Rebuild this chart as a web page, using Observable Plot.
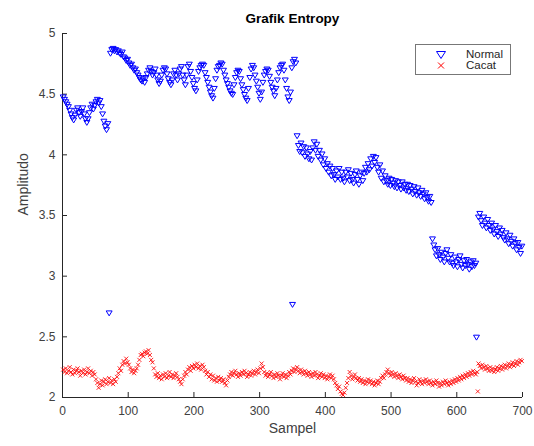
<!DOCTYPE html>
<html><head><meta charset="utf-8">
<script src="https://cdn.jsdelivr.net/npm/d3@7"></script>
<script src="https://cdn.jsdelivr.net/npm/@observablehq/plot@0.6"></script>
<style>
body{margin:0;background:#fff;}
#wrap{position:relative;width:534px;height:446px;font-family:"Liberation Sans",Arial,Helvetica,sans-serif;}
#legend{position:absolute;left:415px;top:44px;width:94px;height:29px;border:1px solid #777;background:#fff;font-size:11.5px;color:#262626;}
#legend .row{position:absolute;left:0;width:94px;height:11px;}
#legend svg{position:absolute;left:19px;top:0;}
#legend span{position:absolute;left:50px;top:-1px;line-height:12px;}
</style></head><body>
<div id="wrap"><div id="chart"></div>
<div id="legend">
 <div class="row" style="top:4px"><svg width="12" height="11"><path d="M1.5,2.5L10.5,2.5L6,9.5Z" fill="none" stroke="#0000ff" stroke-width="1"/></svg><span>Normal</span></div>
 <div class="row" style="top:15px"><svg width="12" height="11"><path d="M3,2.5L9,8.5M9,2.5L3,8.5" fill="none" stroke="#ff0000" stroke-width="1"/></svg><span>Cacat</span></div>
</div></div>
<script>
// ---- data (sample index step 2) ----
const sampleStep = 2;
const xTicks = [0, 100, 200, 300, 400, 500, 600, 700];
const yTicks = [2, 2.5, 3, 3.5, 4, 4.5, 5];

const normalStarts = [1, 73, 357, 563, 633];
const normalSeg1 = [4.48,4.46,4.44,4.42,4.40,4.37,4.34,4.31,4.29,4.33,4.37,4.39,4.35,4.32,4.36,4.39,4.34,4.30,4.27,4.30,4.35,4.39,4.42,4.38,4.41,4.44,4.46,4.43,4.45,4.40,4.34,4.28,4.24,4.21,4.26];
const normalSeg2 = [4.84,4.87,4.88,4.86,4.87,4.85,4.86,4.84,4.83,4.85,
4.81,4.80,4.78,4.79,4.76,4.74,4.75,4.72,4.70,4.71,
4.68,4.66,4.64,4.62,4.61,4.63,4.60,4.64,4.67,4.70,
4.72,4.69,4.66,4.68,4.71,4.66,4.62,4.59,4.61,4.66,
4.70,4.72,4.71,4.67,4.63,4.60,4.58,4.62,4.67,4.70,
4.66,4.62,4.67,4.71,4.73,4.66,4.62,4.58,4.66,4.73,
4.75,4.69,4.64,4.59,4.55,4.53,4.62,4.69,4.72,4.74,
4.75,4.74,4.68,4.64,4.60,4.56,4.52,4.49,4.47,4.55,
4.63,4.70,4.73,4.74,4.76,4.75,4.70,4.66,4.62,4.59,
4.56,4.53,4.51,4.50,4.58,4.64,4.68,4.70,4.69,4.63,
4.58,4.54,4.50,4.47,4.45,4.55,4.64,4.71,4.74,4.72,
4.66,4.61,4.56,4.51,4.46,4.52,4.60,4.66,4.69,4.71,
4.70,4.65,4.60,4.56,4.53,4.49,4.55,4.62,4.68,4.72,
4.74,4.75,4.70,4.62,4.55,4.48,4.45,4.52,4.72,4.77,
4.79,4.76];
const normalSeg3 = [4.16,4.08,4.03,4.10,4.02,4.07,3.99,4.06,4.01,3.97,
4.03,3.96,4.06,4.11,4.04,4.09,3.99,4.04,3.96,4.01,
3.92,3.97,3.89,3.93,3.86,3.91,3.83,3.89,3.84,3.80,
3.87,3.82,3.89,3.80,3.86,3.81,3.78,3.86,3.82,3.88,
3.79,3.85,3.80,3.77,3.84,3.87,3.80,3.76,3.83,3.86,
3.79,3.85,3.90,3.86,3.93,3.88,3.97,3.91,3.99,3.94,
3.98,3.90,3.86,3.92,3.81,3.87,3.78,3.83,3.79,3.76,
3.81,3.75,3.80,3.77,3.74,3.79,3.73,3.78,3.75,3.72,
3.78,3.73,3.76,3.71,3.76,3.70,3.75,3.72,3.68,3.74,
3.70,3.67,3.73,3.69,3.66,3.71,3.68,3.64,3.69,3.65,
3.62,3.66,3.61];
const normalSeg4 = [3.31,3.26,3.22,3.17,3.23,3.18,3.14,3.20,3.16,3.12,3.19,3.22,3.15,3.12,3.18,3.11,3.09,3.16,3.12,3.08,3.14,3.17,3.10,3.07,3.13,3.09,3.14,3.10,3.06,3.12,3.08,3.13,3.09,3.11];
const normalSeg5 = [3.49,3.52,3.46,3.42,3.49,3.44,3.40,3.47,3.42,3.38,3.44,3.39,3.35,3.42,3.37,3.33,3.40,3.35,3.38,3.32,3.30,3.36,3.31,3.27,3.34,3.29,3.25,3.31,3.27,3.22,3.28,3.24,3.19,3.25];
const normalOutlierSample = [71, 350, 630];
const normalOutlierValue = [2.70, 2.77, 2.50];

const cacatStart = 1;
const cacatValues = [
2.23,2.21,2.24,2.20,2.22,2.25,2.21,2.19,2.23,2.20,2.22,2.24,2.21,2.18,2.22,2.20,2.23,2.19,2.21,2.24,2.20,2.22,2.18,2.21,2.19,
2.15,2.12,2.08,2.11,2.14,2.10,2.13,2.15,2.11,2.13,2.16,2.12,2.14,2.11,2.15,2.13,2.17,2.20,2.24,2.22,2.27,2.30,2.28,2.32,2.29,
2.27,2.24,2.21,2.23,2.20,2.22,2.24,2.27,2.31,2.35,2.36,2.34,2.37,2.38,2.36,2.39,2.35,2.31,2.29,2.24,2.19,2.17,2.20,2.16,2.18,
2.15,2.19,2.17,2.20,2.16,2.18,2.21,2.17,2.19,2.16,2.18,2.20,2.17,2.15,2.13,2.11,2.15,2.18,2.21,2.19,2.23,2.25,2.22,2.26,2.24,
2.27,2.25,2.28,2.24,2.26,2.23,2.27,2.25,2.22,2.19,2.21,2.17,2.19,2.15,2.18,2.14,2.16,2.13,2.17,2.14,2.16,2.13,2.15,2.12,2.10,
2.14,2.17,2.19,2.21,2.18,2.20,2.22,2.19,2.17,2.20,2.18,2.21,2.19,2.22,2.20,2.17,2.19,2.21,2.18,2.20,2.22,2.19,2.21,2.23,2.20,
2.24,2.28,2.25,2.21,2.18,2.20,2.17,2.19,2.21,2.18,2.16,2.19,2.17,2.20,2.18,2.15,2.18,2.20,2.17,2.19,2.16,2.18,2.21,2.19,2.22,
2.24,2.21,2.23,2.25,2.22,2.20,2.23,2.21,2.19,2.22,2.20,2.18,2.21,2.19,2.17,2.20,2.18,2.21,2.19,2.16,2.18,2.20,2.17,2.19,2.16,
2.18,2.15,2.17,2.19,2.16,2.18,2.15,2.12,2.10,2.07,2.09,2.05,2.03,2.02,2.04,2.08,2.12,2.16,2.21,2.18,2.15,2.17,2.19,2.16,2.14,
2.16,2.13,2.15,2.12,2.14,2.11,2.13,2.15,2.12,2.14,2.11,2.13,2.10,2.12,2.14,2.11,2.13,2.16,2.18,2.16,2.19,2.21,2.23,2.20,2.18,
2.21,2.19,2.17,2.20,2.18,2.16,2.19,2.17,2.15,2.18,2.16,2.14,2.16,2.13,2.15,2.12,2.14,2.16,2.13,2.10,2.12,2.15,2.13,2.11,2.14,
2.12,2.15,2.13,2.11,2.14,2.12,2.10,2.13,2.11,2.14,2.12,2.09,2.12,2.10,2.13,2.11,2.14,2.12,2.10,2.13,2.11,2.14,2.12,2.15,2.13,
2.16,2.14,2.17,2.15,2.18,2.16,2.19,2.17,2.20,2.18,2.21,2.19,2.22,2.20,2.19,2.21,2.28,2.26,2.24,2.27,2.25,2.23,2.26,2.24,2.22,
2.25,2.22,2.24,2.21,2.23,2.25,2.22,2.24,2.26,2.23,2.25,2.27,2.24,2.26,2.28,2.25,2.27,2.29,2.26,2.28,2.30,2.27,2.29,2.31,2.30];
const cacatOutlierSample = [632];
const cacatOutlierValue = [2.05];

// ---- build tables ----
const normalSegs = [normalSeg1, normalSeg2, normalSeg3, normalSeg4, normalSeg5];
const normalData = normalSegs.flatMap((vals, k) => vals.map((v, i) => ({sample: normalStarts[k] + i * sampleStep, value: v})))
  .concat(normalOutlierSample.map((s, i) => ({sample: s, value: normalOutlierValue[i]})));
const cacatData = cacatValues.map((v, i) => ({sample: cacatStart + i * sampleStep, value: v}))
  .concat(cacatOutlierSample.map((s, i) => ({sample: s, value: cacatOutlierValue[i]})));

const triDown = {draw(ctx, size) { const r = Math.sqrt(size / Math.PI); const w = r * 1.35, a = r * 0.75, b = r * 1.5;
  ctx.moveTo(-w, -a); ctx.lineTo(w, -a); ctx.lineTo(0, b); ctx.closePath(); }};
const cross = {draw(ctx, size) { const r = Math.sqrt(size / Math.PI);
  ctx.moveTo(-r, -r); ctx.lineTo(r, r); ctx.moveTo(r, -r); ctx.lineTo(-r, r); }};

const W = 534, H = 446, mL = 62, mR = 12, mT = 33, mB = 49;
const chart = Plot.plot({
  width: W, height: H, marginLeft: mL, marginRight: mR, marginTop: mT, marginBottom: mB,
  style: {fontFamily: '"Liberation Sans", Arial, Helvetica, sans-serif', fontSize: "12px", color: "#404040", background: "#fff"},
  x: {domain: [0, 700], axis: null},
  y: {domain: [2, 5], axis: null},
  marks: [
    Plot.axisX(xTicks, {tickSize: 0, tickPadding: 9, tickFormat: d => String(d), label: null, fontSize: 12, fill: "#404040"}),
    Plot.axisY(yTicks, {tickSize: 0, tickPadding: 7, tickFormat: d => String(d), label: null, fontSize: 12, fill: "#404040"}),
    Plot.tickX(xTicks, {x: d => d, insetTop: H - mT - mB - 5, stroke: "#262626"}),
    Plot.tickY(yTicks, {y: d => d, insetRight: W - mL - mR - 5, stroke: "#262626"}),
    Plot.ruleY([2], {stroke: "#262626"}),
    Plot.ruleX([0], {stroke: "#262626"}),
    Plot.dot(normalData, {x: "sample", y: "value", symbol: triDown, r: 2.2, stroke: "#0000ff", fill: "none", strokeWidth: 1}),
    Plot.dot(cacatData, {x: "sample", y: "value", symbol: cross, r: 2, stroke: "#ff0000", strokeWidth: 0.85}),
    Plot.text(["Grafik Entropy"], {frameAnchor: "top", dy: -20, fontSize: 13.5, fontWeight: "bold", fill: "#000"}),
    Plot.text(["Sampel"], {frameAnchor: "bottom", dy: 35, fontSize: 14, fill: "#404040"}),
    Plot.text(["Amplitudo"], {frameAnchor: "left", dx: -39, rotate: -90, fontSize: 14, fill: "#404040"})
  ]
});
document.getElementById("chart").appendChild(chart);
</script>
</body></html>
